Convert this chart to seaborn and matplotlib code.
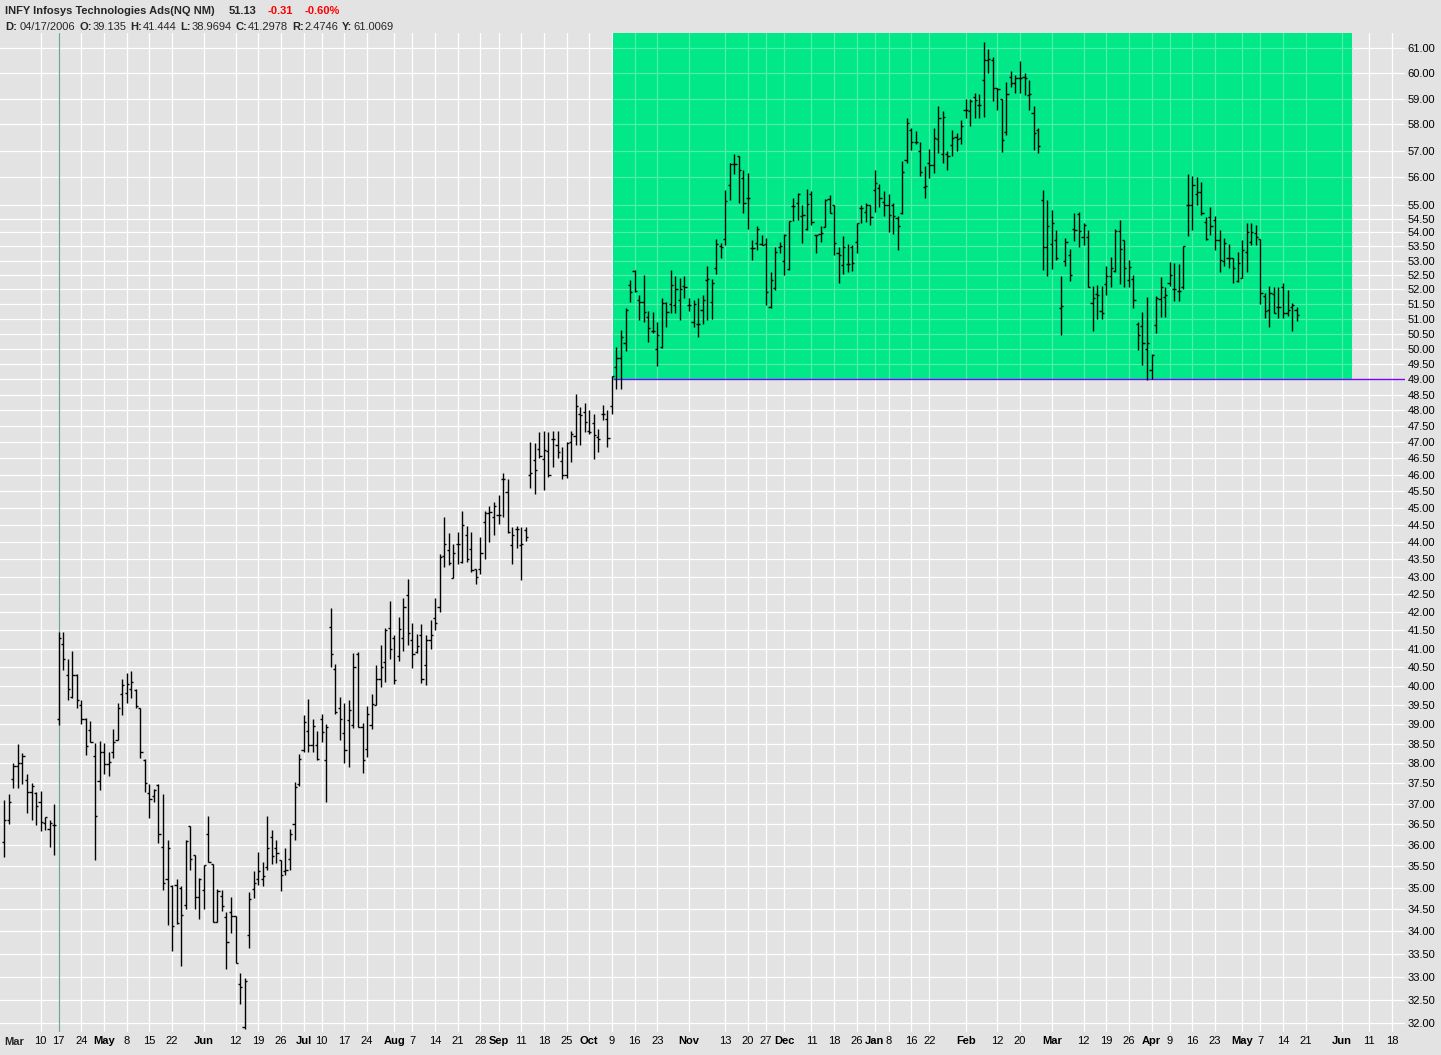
import numpy as np
import pandas as pd
import matplotlib
matplotlib.use("Agg")
import matplotlib.pyplot as plt
import seaborn as sns
from matplotlib.patches import Rectangle
from matplotlib.ticker import FixedLocator, FixedFormatter, NullLocator

# NYSE trading days (market closures removed)
holidays = ["2006-04-14", "2006-05-29", "2006-07-04", "2006-09-04", "2006-11-23",
            "2006-12-25", "2007-01-01", "2007-01-02", "2007-01-15", "2007-02-19",
            "2007-04-06", "2007-05-28"]
days = pd.bdate_range("2006-03-29", "2007-06-29", freq="C", holidays=holidays)
day_pos = {d.strftime("%Y-%m-%d"): i for i, d in enumerate(days)}

# INFY daily bars, 2006-03-29 .. 2007-05-17
opens = [
    36.08, 36.61, 37.60, 37.94, 38.00, 37.58, 37.28, 37.25, 37.04, 36.52,
    36.38, 36.47, 39.14, 41.12, 40.28, 39.71, 40.28, 39.49, 39.13, 38.84,
    38.18, 37.56, 38.28, 37.98, 38.28, 38.59, 39.78, 39.82, 39.93, 39.89,
    39.43, 38.08, 37.25, 37.20, 37.46, 35.96, 35.21, 35.03, 35.07, 34.98,
    34.60, 36.46, 35.76, 34.79, 34.94, 36.26, 35.55, 34.22, 34.80, 34.33,
    34.45, 34.35, 32.83, 31.91, 33.93, 34.96, 35.21, 35.21, 35.48, 36.19,
    35.92, 35.64, 35.39, 35.66, 36.50, 37.49, 38.35, 38.82, 38.46, 38.46,
    39.12, 38.08, 41.58, 40.46, 39.41, 38.76, 39.10, 38.97, 40.86, 38.93,
    38.37, 38.97, 39.50, 40.19, 40.64, 41.55, 41.29, 40.79, 41.29, 42.48,
    41.23, 40.90, 41.36, 40.55, 41.23, 41.85, 42.13, 43.58, 43.75, 42.95,
    43.93, 43.42, 44.19, 43.78, 43.23, 43.23, 44.58, 44.84, 44.74, 44.79,
    45.86, 45.49, 43.92, 44.39, 43.90, 44.34, 46.00, 46.45, 46.78, 46.48,
    46.74, 47.11, 46.90, 46.42, 45.98, 47.01, 47.18, 47.90, 47.95, 47.36,
    47.59, 47.16, 47.90, 47.74, 48.13, 49.40, 49.68, 50.20, 52.15, 52.63,
    51.64, 51.58, 51.06, 50.59, 49.98, 50.06, 51.52, 51.49, 51.46, 51.64,
    52.13, 51.46, 50.88, 50.82, 51.29, 52.33, 51.56, 52.76, 53.51, 53.75,
    55.72, 56.50, 56.82, 55.97, 55.23, 53.44, 53.61, 53.58, 53.58, 51.40,
    52.04, 53.49, 53.00, 52.70, 54.96, 55.05, 54.59, 54.11, 55.39, 53.90,
    53.95, 54.20, 55.20, 54.99, 53.27, 52.85, 52.88, 53.49, 53.66, 54.87,
    54.75, 54.99, 55.53, 55.61, 55.11, 54.99, 54.99, 54.51, 54.69, 56.66,
    57.78, 57.33, 57.00, 55.64, 56.53, 56.46, 57.46, 56.88, 56.88, 57.21,
    57.53, 57.49, 58.56, 58.53, 59.07, 58.74, 59.74, 60.54, 60.51, 59.40,
    58.97, 57.72, 59.86, 59.60, 59.80, 59.86, 59.14, 58.43, 57.80, 55.16,
    53.49, 53.60, 53.72, 51.35, 53.00, 53.21, 54.14, 54.66, 53.84, 53.82,
    51.52, 51.84, 51.26, 52.20, 52.45, 52.63, 54.06, 53.72, 52.33, 52.36,
    50.84, 50.76, 49.98, 49.29, 50.79, 51.67, 51.73, 52.24, 52.03, 51.95,
    52.07, 54.99, 54.99, 55.39, 55.45, 54.38, 54.55, 54.44, 53.72, 53.00,
    53.08, 53.11, 52.29, 52.39, 53.32, 53.66, 53.98, 53.75, 51.77, 51.29,
    51.83, 51.40, 52.07, 51.20, 51.40, 51.29,
]
highs = [
    37.09, 37.23, 38.00, 38.50, 38.25, 37.73, 37.50, 37.29, 37.31, 36.68,
    36.59, 37.00, 41.44, 41.45, 40.71, 40.93, 40.31, 39.62, 39.16, 39.08,
    38.52, 38.56, 38.52, 38.28, 38.88, 39.55, 40.17, 40.33, 40.40, 39.93,
    39.43, 38.12, 37.48, 37.36, 37.48, 37.23, 36.13, 35.05, 35.21, 35.03,
    36.13, 36.46, 35.76, 35.22, 35.53, 36.70, 35.55, 34.96, 34.94, 34.43,
    34.78, 34.35, 33.07, 32.96, 34.89, 35.38, 35.83, 35.60, 36.70, 36.37,
    36.11, 35.64, 35.94, 36.39, 37.54, 38.23, 39.23, 39.65, 39.14, 38.82,
    39.25, 39.00, 42.12, 40.59, 39.71, 39.56, 39.62, 40.88, 40.91, 39.02,
    39.46, 39.78, 40.55, 41.09, 41.55, 42.32, 41.38, 41.87, 42.39, 42.92,
    41.70, 41.41, 41.66, 41.38, 41.79, 42.39, 43.66, 44.74, 44.26, 43.95,
    44.29, 44.91, 44.47, 44.29, 43.23, 44.14, 44.91, 45.05, 45.19, 45.38,
    46.04, 45.88, 44.44, 44.47, 44.44, 44.44, 47.01, 46.96, 47.33, 47.36,
    47.33, 47.36, 47.36, 46.85, 47.01, 47.36, 48.51, 48.11, 48.22, 48.02,
    47.87, 47.42, 48.16, 48.02, 49.10, 50.06, 50.62, 51.35, 52.32, 52.66,
    51.81, 52.50, 51.26, 51.24, 50.88, 51.70, 51.56, 52.66, 52.45, 52.39,
    52.45, 51.70, 51.64, 51.70, 51.81, 52.83, 52.36, 53.75, 53.61, 55.54,
    56.53, 56.87, 56.82, 56.29, 56.17, 53.72, 54.23, 53.91, 53.79, 52.60,
    53.49, 53.66, 53.93, 54.41, 55.26, 55.41, 54.99, 55.59, 55.49, 53.92,
    54.23, 55.20, 55.36, 54.99, 53.49, 53.86, 53.58, 53.54, 54.35, 54.99,
    55.05, 54.99, 56.29, 55.76, 55.49, 55.39, 55.05, 54.59, 56.63, 58.23,
    57.85, 57.76, 57.33, 56.42, 57.05, 57.85, 58.71, 58.53, 57.00, 57.78,
    57.69, 58.19, 58.97, 58.97, 59.21, 59.18, 61.27, 60.98, 60.63, 59.40,
    58.97, 59.67, 60.10, 59.93, 60.49, 60.00, 59.74, 58.71, 57.88, 55.54,
    55.17, 54.81, 54.08, 52.45, 53.79, 53.40, 54.69, 54.75, 54.35, 54.08,
    52.13, 52.17, 52.11, 52.80, 53.13, 54.14, 54.44, 53.72, 53.04, 52.50,
    50.88, 51.24, 51.75, 49.81, 51.77, 52.43, 52.08, 52.96, 52.91, 52.88,
    53.51, 56.14, 56.06, 56.03, 55.85, 54.55, 54.91, 54.59, 54.08, 53.79,
    53.58, 53.11, 53.32, 53.72, 54.33, 54.35, 54.26, 53.75, 51.89, 52.13,
    52.07, 52.07, 52.21, 51.98, 51.52, 51.40,
]
lows = [
    35.72, 36.50, 37.38, 37.38, 37.48, 36.76, 36.61, 36.49, 36.34, 36.37,
    35.96, 35.76, 38.97, 40.42, 39.64, 39.69, 39.43, 39.00, 38.21, 38.53,
    35.64, 37.34, 37.73, 37.69, 38.14, 38.59, 39.23, 39.56, 39.69, 39.43,
    38.14, 37.28, 36.66, 37.04, 36.04, 34.95, 34.15, 33.57, 34.17, 33.24,
    34.50, 35.41, 34.50, 34.27, 34.50, 35.60, 34.22, 34.22, 34.47, 33.16,
    33.96, 33.29, 32.40, 31.87, 33.63, 34.75, 35.05, 35.03, 35.41, 35.55,
    35.58, 34.91, 35.29, 35.41, 36.13, 37.44, 38.28, 38.28, 38.28, 38.08,
    38.54, 37.04, 40.50, 39.27, 38.60, 38.01, 37.91, 38.91, 38.93, 37.75,
    38.15, 38.88, 39.49, 39.97, 40.11, 40.71, 40.04, 40.66, 40.93, 41.10,
    40.48, 40.88, 40.08, 40.03, 41.00, 41.50, 42.01, 43.26, 43.32, 42.95,
    43.37, 43.40, 43.42, 43.13, 42.78, 43.06, 43.49, 44.00, 44.19, 44.53,
    44.74, 44.26, 43.35, 43.83, 42.89, 44.02, 45.61, 45.43, 46.50, 45.55,
    45.93, 46.25, 46.50, 45.88, 45.91, 46.40, 46.90, 46.90, 47.31, 47.26,
    46.48, 46.70, 47.69, 46.85, 47.90, 48.67, 48.67, 49.94, 51.58, 51.92,
    50.96, 50.90, 50.23, 50.53, 49.42, 50.01, 50.72, 51.20, 51.18, 50.96,
    51.70, 51.26, 50.72, 50.40, 50.84, 50.96, 51.01, 52.55, 53.08, 53.54,
    55.17, 56.13, 55.08, 54.71, 54.11, 53.01, 53.38, 53.54, 51.46, 51.35,
    51.98, 53.27, 52.50, 52.66, 54.41, 54.44, 53.61, 54.09, 54.26, 53.27,
    53.66, 54.20, 54.71, 53.21, 52.23, 52.53, 52.60, 52.64, 53.27, 54.35,
    54.38, 54.26, 54.75, 54.93, 54.59, 54.02, 53.95, 53.36, 54.68, 56.55,
    57.02, 57.27, 56.06, 55.25, 55.97, 56.17, 56.91, 56.53, 56.27, 56.81,
    57.00, 57.27, 58.23, 57.96, 58.26, 58.26, 58.28, 60.00, 58.91, 58.56,
    56.96, 57.59, 59.47, 59.22, 59.21, 59.14, 58.56, 57.02, 56.91, 52.66,
    52.47, 52.72, 53.04, 50.45, 52.83, 52.28, 53.69, 53.49, 53.54, 52.08,
    50.60, 50.98, 51.00, 51.81, 52.07, 52.60, 52.20, 52.08, 52.07, 51.38,
    49.96, 49.48, 48.97, 49.02, 50.53, 51.06, 51.06, 52.11, 51.62, 51.62,
    52.03, 53.86, 54.08, 54.99, 54.63, 53.72, 53.90, 53.38, 52.60, 52.80,
    52.73, 52.24, 52.27, 52.39, 52.60, 53.54, 53.54, 51.49, 51.04, 50.72,
    51.20, 51.04, 51.04, 51.11, 50.60, 50.94,
]
closes = [
    36.61, 37.03, 37.94, 38.00, 38.18, 37.28, 37.44, 36.94, 36.56, 36.67,
    36.54, 36.49, 41.30, 40.71, 39.91, 40.28, 39.62, 39.13, 38.44, 38.53,
    36.70, 38.28, 37.98, 38.03, 38.53, 39.43, 40.02, 40.04, 40.11, 39.46,
    38.28, 37.52, 37.11, 37.34, 36.26, 35.10, 35.94, 34.12, 34.19, 34.37,
    36.09, 35.66, 34.79, 35.21, 35.53, 35.60, 34.22, 34.91, 34.58, 33.76,
    34.35, 33.29, 32.78, 32.91, 34.73, 35.10, 35.38, 35.26, 35.94, 35.74,
    35.81, 35.29, 35.41, 36.26, 37.40, 38.10, 39.06, 38.46, 38.95, 38.12,
    38.80, 38.93, 40.85, 39.32, 39.14, 38.34, 39.36, 40.50, 38.93, 38.08,
    39.27, 39.51, 40.19, 40.50, 41.50, 40.98, 40.15, 41.53, 42.15, 41.43,
    40.86, 41.07, 40.19, 41.23, 41.38, 41.70, 43.56, 43.95, 43.39, 43.68,
    43.93, 44.49, 43.50, 43.18, 43.00, 43.68, 44.84, 44.89, 45.06, 44.79,
    45.86, 44.29, 44.19, 44.37, 43.95, 44.14, 46.04, 46.13, 46.56, 46.76,
    45.98, 47.11, 46.70, 45.98, 46.98, 47.26, 48.13, 47.85, 47.64, 47.31,
    47.21, 47.11, 47.90, 47.14, 49.10, 49.68, 50.40, 51.29, 51.90, 51.95,
    51.58, 51.24, 50.68, 50.60, 50.45, 51.52, 51.24, 52.17, 52.00, 52.00,
    52.09, 51.46, 51.49, 50.82, 51.64, 52.36, 52.23, 53.58, 53.49, 55.14,
    56.50, 56.50, 56.29, 55.08, 55.23, 53.44, 54.11, 53.54, 51.92, 52.32,
    53.32, 53.51, 53.90, 54.41, 54.96, 55.39, 54.63, 55.02, 54.38, 53.90,
    53.98, 55.16, 54.71, 53.61, 53.19, 53.49, 52.88, 52.93, 54.33, 54.87,
    54.99, 54.56, 55.79, 55.23, 54.99, 54.63, 54.59, 54.23, 56.21, 58.06,
    57.33, 57.33, 56.20, 55.70, 56.46, 57.49, 58.26, 58.28, 56.81, 57.49,
    57.46, 57.96, 58.56, 58.90, 58.94, 58.74, 60.54, 60.57, 59.40, 59.36,
    57.39, 59.18, 59.60, 59.80, 59.80, 59.82, 59.18, 57.69, 57.17, 53.49,
    54.23, 54.35, 53.08, 51.43, 53.66, 52.50, 54.08, 54.06, 54.26, 52.08,
    51.70, 51.81, 51.18, 52.45, 52.76, 54.06, 53.40, 52.73, 52.77, 51.64,
    50.45, 50.18, 50.20, 49.78, 51.70, 52.07, 51.81, 52.50, 52.03, 51.95,
    53.51, 54.99, 55.72, 55.45, 54.71, 53.75, 54.23, 53.72, 53.04, 53.61,
    53.11, 52.73, 52.91, 53.38, 54.02, 54.02, 53.84, 51.89, 51.26, 51.89,
    51.20, 51.40, 51.20, 51.30, 51.46, 51.13,
]

# x axis labels (month names bold)
tick_dates = ["2006-04-10", "2006-04-17", "2006-04-24", "2006-05-01", "2006-05-08",
              "2006-05-15", "2006-05-22", "2006-06-01", "2006-06-12", "2006-06-19",
              "2006-06-26", "2006-07-03", "2006-07-10", "2006-07-17", "2006-07-24",
              "2006-08-01", "2006-08-07", "2006-08-14", "2006-08-21", "2006-08-28",
              "2006-09-01", "2006-09-11", "2006-09-18", "2006-09-25", "2006-10-02",
              "2006-10-09", "2006-10-16", "2006-10-23", "2006-11-01", "2006-11-13",
              "2006-11-20", "2006-11-27", "2006-12-01", "2006-12-11", "2006-12-18",
              "2006-12-26", "2007-01-03", "2007-01-08", "2007-01-16", "2007-01-22",
              "2007-02-01", "2007-02-12", "2007-02-20", "2007-03-01", "2007-03-12",
              "2007-03-19", "2007-03-26", "2007-04-02", "2007-04-09", "2007-04-16",
              "2007-04-23", "2007-05-01", "2007-05-07", "2007-05-14", "2007-05-21",
              "2007-06-01", "2007-06-11", "2007-06-18"]
tick_text = ["10", "17", "24", "May", "8", "15", "22", "Jun", "12", "19", "26",
             "Jul", "10", "17", "24", "Aug", "7", "14", "21", "28", "Sep", "11",
             "18", "25", "Oct", "9", "16", "23", "Nov", "13", "20", "27", "Dec",
             "11", "18", "26", "Jan", "8", "16", "22", "Feb", "12", "20", "Mar",
             "12", "19", "26", "Apr", "9", "16", "23", "May", "7", "14", "21",
             "Jun", "11", "18"]
first_label = "Mar"

price_ticks = list(np.arange(32.0, 55.01, 0.5)) + [56.0, 57.0, 58.0, 59.0, 60.0, 61.0]

cursor_date = "2006-04-17"
zone_floor = 49.00
zone_start, zone_end = 134.3, 297.2   # bar positions of the shaded zone

W, H = 1441, 1055
bg = "#e3e3e3"
zone_green = "#00e887"
zone_grid = "#4ef0a8"

sns.set_style("darkgrid", {"axes.facecolor": bg, "grid.color": "white",
                           "axes.edgecolor": bg, "figure.facecolor": bg})
plt.rcParams["font.family"] = ["Liberation Sans", "DejaVu Sans"]

fig = plt.figure(figsize=(W / 100, H / 100), dpi=100)
fig.patch.set_facecolor(bg)
ax = fig.add_axes([0, (H - 1032) / H, 1405 / W, (1032 - 33) / H])

ax.set_yscale("log")
ax.set_ylim(31.81, 61.62)
ax.set_xlim(-0.95, 308.9)

ax.yaxis.set_major_locator(FixedLocator(price_ticks))
ax.yaxis.set_major_formatter(FixedFormatter(["%.2f" % p for p in price_ticks]))
ax.yaxis.set_minor_locator(NullLocator())
ax.yaxis.tick_right()

tick_pos = [day_pos[d] for d in tick_dates]
ax.xaxis.set_major_locator(FixedLocator(tick_pos))
ax.xaxis.set_major_formatter(FixedFormatter(tick_text))
ax.xaxis.set_minor_locator(NullLocator())

ax.grid(True, which="major", color="white", linewidth=0.9)
ax.tick_params(axis="both", length=0, labelsize=8, colors="black")
ax.tick_params(axis="x", pad=3)
ax.tick_params(axis="y", pad=2)
for lab in ax.get_xticklabels():
    if lab.get_text().isalpha():
        lab.set_fontweight("bold")
for sp in ax.spines.values():
    sp.set_visible(False)

ax.text(day_pos["2006-03-31"] + 0.1, -10 / 999, first_label, transform=ax.get_xaxis_transform(),
        ha="center", va="center", fontsize=8, fontweight="bold")

# shaded zone above support
top = 63.0
ax.add_patch(Rectangle((zone_start, zone_floor), zone_end - zone_start, top - zone_floor,
                       facecolor=zone_green, edgecolor="none", zorder=0.6))
in_y = [p for p in price_ticks if p > zone_floor]
ax.hlines(in_y, zone_start, zone_end, color=zone_grid, linewidth=0.9, zorder=0.7)
in_x = [p for p in tick_pos if zone_start < p < zone_end]
ax.vlines(in_x, zone_floor, top, color=zone_grid, linewidth=0.9, zorder=0.7)
ax.hlines(zone_floor, zone_start, 308.9, color="#7b00ff", linewidth=1.0, zorder=2)

# cursor line
ax.axvline(day_pos[cursor_date], color="#76a39b", linewidth=0.9, zorder=1)

# OHLC bars
x = np.arange(len(closes))
ax.vlines(x, lows, highs, color="black", linewidth=1.0, zorder=3)
ax.hlines(opens, x - 0.48, x, color="black", linewidth=1.0, zorder=3)
ax.hlines(closes, x, x + 0.48, color="black", linewidth=1.0, zorder=3)


def px(xp, yp):
    return xp / W, 1 - yp / H


# header
hdr = dict(fontsize=8, fontweight="bold", va="center", ha="left")
fig.text(*px(5, 11), "INFY Infosys Technologies Ads(NQ NM)", **hdr)
fig.text(*px(229, 11), "51.13", **hdr)
fig.text(*px(268, 11), "-0.31", color="#ff0000", **hdr)
fig.text(*px(305, 11), "-0.60%", color="#ff0000", **hdr)

info_labels = ["D:", "O:", "H:", "L:", "C:", "R:", "Y:"]
info_values = ["04/17/2006", "39.135", "41.444", "38.9694", "41.2978", "2.4746", "61.0069"]
renderer = fig.canvas.get_renderer()
cur = 5
for lb, vl in zip(info_labels, info_values):
    t = fig.text(*px(cur, 27), lb, **hdr)
    cur = t.get_window_extent(renderer).x1 + (3 if lb == "D:" else 0.5)
    t = fig.text(*px(cur, 27), vl, fontsize=8, va="center", ha="left")
    cur = t.get_window_extent(renderer).x1 + 4

fig.savefig("out.png", dpi=100, facecolor=fig.get_facecolor())
